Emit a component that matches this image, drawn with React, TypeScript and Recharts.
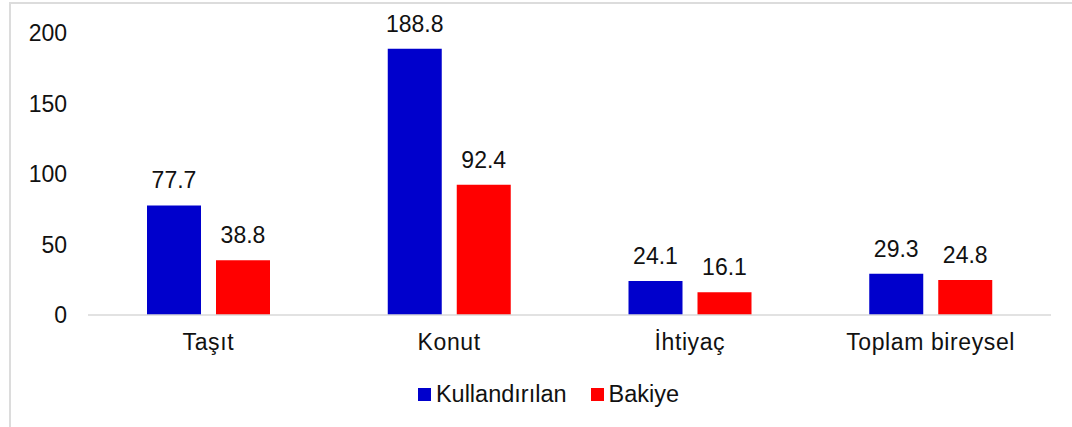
import { Bar, BarChart, LabelList, Legend, XAxis, YAxis } from "recharts";

const categories = ["Taşıt", "Konut", "İhtiyaç", "Toplam bireysel"];
const kullandirilan = [77.7, 188.8, 24.1, 29.3];
const bakiye = [38.8, 92.4, 16.1, 24.8];
const yTicks = [0, 50, 100, 150, 200];

const data = categories.map((name, i) => ({
  name,
  kullandirilan: kullandirilan[i],
  bakiye: bakiye[i],
}));

const FONT = "'Liberation Sans', Arial, sans-serif";
const TEXT = "#111";

const legendItems = [
  { label: "Kullandırılan", color: "#0000cc" },
  { label: "Bakiye", color: "#ff0000" },
];

function LegendBox() {
  return (
    <div
      style={{
        display: "flex",
        justifyContent: "center",
        gap: 24,
        paddingLeft: 25,
        fontFamily: FONT,
        fontSize: 23.5,
        color: TEXT,
        lineHeight: "28px",
      }}
    >
      {legendItems.map((it) => (
        <div key={it.label} style={{ display: "flex", alignItems: "center" }}>
          <span
            style={{
              width: 13,
              height: 13,
              background: it.color,
              marginRight: 5,
              display: "inline-block",
            }}
          />
          {it.label}
        </div>
      ))}
    </div>
  );
}

export default function App() {
  return (
    <div
      style={{
        position: "absolute",
        left: 0,
        top: 0,
        width: 1072,
        height: 427,
        overflow: "hidden",
        background: "#fff",
      }}
    >
      <div
        style={{
          position: "absolute",
          left: 9,
          top: 2,
          width: 1100,
          height: 500,
          borderLeft: "2px solid #dcdcdc",
          borderTop: "2px solid #dcdcdc",
        }}
      />
      <div style={{ position: "absolute", left: 0, top: 0 }}>
        <BarChart
          width={1072}
          height={427}
          data={data}
          barSize={54}
          barGap={15}
          margin={{ top: 33, right: 21, left: 0, bottom: 30 }}
        >
          <XAxis
            dataKey="name"
            axisLine={{ stroke: "#d9d9d9", strokeWidth: 1.5 }}
            tickLine={false}
            tickMargin={13}
            height={54}
            tick={{
              fill: TEXT,
              fontSize: 23,
              fontFamily: FONT,
              letterSpacing: 0.6,
            }}
          />
          <YAxis
            width={88}
            domain={[0, 200]}
            ticks={yTicks}
            axisLine={false}
            tickLine={false}
            tickMargin={15}
            tick={{ fill: TEXT, fontSize: 23, fontFamily: FONT }}
          />
          <Legend
            verticalAlign="bottom"
            content={<LegendBox />}
            wrapperStyle={{ left: 0, width: 1072, bottom: 19 }}
          />
          <Bar dataKey="kullandirilan" fill="#0000cc" isAnimationActive={false}>
            <LabelList
              dataKey="kullandirilan"
              position="top"
              offset={17}
              formatter={(v: number) => v.toFixed(1)}
              style={{ fill: TEXT, fontSize: 23, fontFamily: FONT }}
            />
          </Bar>
          <Bar dataKey="bakiye" fill="#ff0000" isAnimationActive={false}>
            <LabelList
              dataKey="bakiye"
              position="top"
              offset={17}
              formatter={(v: number) => v.toFixed(1)}
              style={{ fill: TEXT, fontSize: 23, fontFamily: FONT }}
            />
          </Bar>
        </BarChart>
      </div>
    </div>
  );
}
